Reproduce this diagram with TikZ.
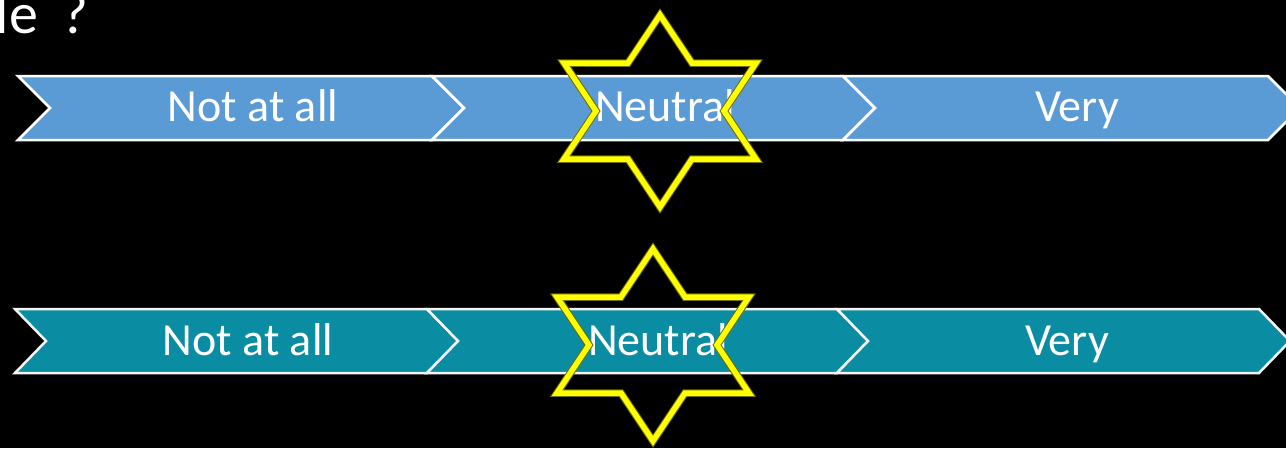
\documentclass[tikz,border=0pt]{standalone}
\usepackage{fontspec}
\setmainfont{Carlito}
\definecolor{chevblue}{RGB}{91,155,213}
\definecolor{chevteal}{RGB}{10,140,162}
\definecolor{staryellow}{RGB}{255,255,0}
\definecolor{staredge}{RGB}{110,110,0}
\newcommand\MyChevron[6]{%
  \draw[#1] (#2,#4) -- (#3,#4) -- ({#3+#6},{(#4+#5)/2}) -- (#3,#5) -- (#2,#5) -- ({#2+#6},{(#4+#5)/2}) -- cycle;}
\newcommand\MyStar[2]{%
  \foreach \w/\c in {7.5/staredge,5.5/staryellow}{
  \draw[line width=\w pt, draw=\c, miter limit=10, shift={(#1,#2)}]
    (0,-96) -- (32,-48) -- (96,-48) -- (64,0) -- (96,48) -- (32,48) -- (0,96)
    -- (-32,48) -- (-96,48) -- (-64,0) -- (-96,-48) -- (-32,-48) -- cycle;}}
\tikzset{
  bluechev/.style={fill=chevblue, draw=white, line width=2.5pt, line join=miter},
  tealchev/.style={fill=chevteal, draw=white!92!gray, line width=2.5pt, line join=miter},
  label/.style={text=white, anchor=base, inner sep=0pt, font=\fontsize{46}{55}\selectfont},
}
\begin{document}
\begin{tikzpicture}[x=1pt, y=-1pt]
\useasboundingbox (0,0) rectangle (1286,448);
\fill[black] (0,0) rectangle (1286,448);
\clip (0,0) rectangle (1286,448);
% title fragment (cut off by the picture's edges, as in the reference)
\node[text=white, anchor=base west, inner sep=0pt, font=\fontsize{58}{68}\selectfont] (title) at (-4.4,33) {le\hspace{24pt}?};
% top row
\MyChevron{bluechev}{18}{432}{76}{140}{32}
\MyChevron{bluechev}{432}{843}{76}{140}{32}
\MyChevron{bluechev}{843}{1268}{76}{140}{32}
\node[label] (t1) at (253,121) {Not at all};
\node[label] (t2) at (665,121) {Neutral};
\node[label] (t3) at (1077,121) {Very};
% bottom row
\MyChevron{tealchev}{15}{427}{309}{373}{31}
\MyChevron{tealchev}{427}{837}{309}{373}{31}
\MyChevron{tealchev}{837}{1259}{309}{373}{31}
\node[label] (b1) at (248,355) {Not at all};
\node[label] (b2) at (658,355) {Neutral};
\node[label] (b3) at (1067,355) {Very};
% stars
\MyStar{660}{111}
\MyStar{653}{345}
\end{tikzpicture}
\end{document}
